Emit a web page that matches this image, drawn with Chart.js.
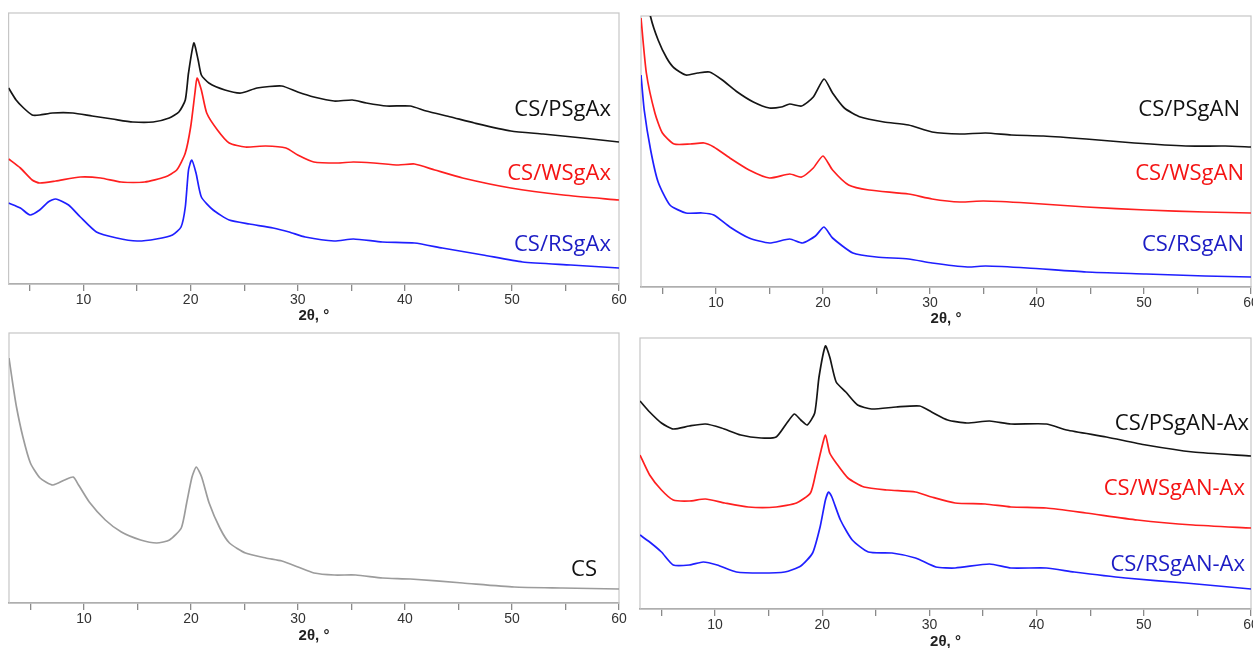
<!DOCTYPE html>
<html>
<head>
<meta charset="utf-8">
<script src="https://cdn.jsdelivr.net/npm/chart.js@4.4.1/dist/chart.umd.min.js"></script>
<style>
  html, body { margin: 0; padding: 0; background: #fff; overflow: hidden; }
  body { position: relative; width: 1253px; height: 648px; }
  canvas { position: absolute; }
  .tag { position: absolute; font-family: 'Open Sans', sans-serif; font-size: 22px; line-height: 22px; white-space: nowrap; }
</style>
</head>
<body>
<canvas id="p1" width="635" height="330" style="left:0;top:0"></canvas>
<canvas id="p2" width="633" height="330" style="left:630px;top:0"></canvas>
<canvas id="p3" width="635" height="328" style="left:0;top:320px"></canvas>
<canvas id="p4" width="633" height="340" style="left:630px;top:320px"></canvas>

<div class="tag" style="right:642px;top:96px;color:#111">CS/PSgAx</div>
<div class="tag" style="right:642px;top:160px;color:#f41414">CS/WSgAx</div>
<div class="tag" style="right:642px;top:231px;color:#1c1cc4">CS/RSgAx</div>
<div class="tag" style="right:13px;top:96px;color:#111">CS/PSgAN</div>
<div class="tag" style="right:9px;top:160px;color:#f41414">CS/WSgAN</div>
<div class="tag" style="right:9px;top:231px;color:#1c1cc4">CS/RSgAN</div>
<div class="tag" style="right:656px;top:556px;color:#111">CS</div>
<div class="tag" style="right:4px;top:410px;color:#111">CS/PSgAN-Ax</div>
<div class="tag" style="right:8px;top:475px;color:#f41414">CS/WSgAN-Ax</div>
<div class="tag" style="right:8px;top:551px;color:#1c1cc4">CS/RSgAN-Ax</div>

<script>
// 2θ positions and intensities (arbitrary units, offset per trace)
// top-left panel
const psgaxX = [3, 3.7, 4.4, 5.2, 5.9, 7.1, 9, 10.8, 12.7, 14.6, 16.5, 18, 18.9, 19.5, 19.8, 20.3, 20.7, 21, 21.7, 23.2, 24.7, 26.2, 28.5, 30, 31.5, 33.4, 35.1, 36.4, 38.3, 40.5, 42, 44.3, 46.5, 49.9, 52.9, 56.6, 60];
const psgaxY = [196, 184, 176, 169, 169, 171, 171, 168, 165, 162, 162, 166, 172, 184, 211, 241, 224, 209, 201, 194, 191, 196, 198, 192, 187, 183, 184, 181, 178, 178, 173, 167, 161, 153, 150, 146, 142];
const wsgaxX = [3, 4.1, 5.2, 5.9, 7.4, 9.7, 11.6, 13.5, 15.7, 17.6, 18.7, 19.5, 20, 20.4, 20.6, 21, 21.5, 22.5, 23.6, 25.1, 27, 28.9, 30, 31.5, 33.7, 35.2, 37.1, 39.4, 40.9, 42.8, 45.4, 49.9, 54.8, 60];
const wsgaxY = [125, 116, 104, 101, 103, 107, 106, 102, 102, 107, 114, 131, 157, 191, 206, 194, 171, 154, 141, 137, 138, 136, 129, 122, 121, 122, 121, 119, 120, 114, 106, 96, 89, 84];
const rsgaxX = [3, 4.1, 5, 5.9, 6.7, 7.4, 8.6, 9.7, 11.2, 13.1, 15, 16.8, 18.3, 19.1, 19.5, 19.8, 20.1, 20.5, 21, 22.1, 23.6, 25.5, 27.7, 29.2, 30.7, 33.4, 35.2, 37.9, 40.9, 43.5, 47.3, 51, 55.5, 60];
const rsgaxY = [81, 76, 69, 74, 82, 85, 79, 67, 52, 46, 43, 45, 49, 57, 77, 114, 124, 111, 87, 74, 64, 60, 56, 52, 47, 43, 45, 42, 41, 36, 29, 22, 19, 16];

// top-right panel
const psganX = [3.4, 3.9, 4.6, 5.4, 6.1, 7.2, 8.3, 9.4, 10.6, 12, 13.5, 15, 16.1, 16.9, 18, 19.1, 20.1, 20.9, 22, 23.5, 25.7, 28, 30.2, 32.8, 35.2, 37.6, 40.6, 44.6, 49.1, 53.9, 57.6, 60];
const psganY = [300, 270, 247, 229, 219, 212, 214, 215, 207, 195, 185, 179, 180, 183, 181, 190, 208, 194, 179, 170, 165, 162, 155, 153, 154, 152, 151, 148, 144, 141, 141, 140];
const wsganX = [3, 3.5, 4.3, 5, 6.1, 7.6, 8.9, 9.8, 11.3, 13.1, 15, 16.9, 18, 19.1, 20, 20.9, 22.4, 24.3, 28, 30.2, 32.8, 35, 39.1, 44.6, 50.2, 55.7, 60];
const wsganY = [269, 214, 174, 154, 143, 143, 144, 140, 129, 117, 109, 113, 110, 119, 131, 117, 102, 97, 93, 88, 85, 86, 84, 80, 77, 75, 74];
const rsganX = [3, 3.3, 3.9, 4.6, 5.7, 7.2, 8.7, 9.8, 11.3, 13.1, 15, 16.9, 18.1, 19.3, 20.1, 20.9, 22.8, 25, 28, 30.2, 33.5, 35.2, 39.1, 44.6, 50.2, 55.7, 60];
const rsganY = [212, 177, 137, 105, 82, 74, 74, 72, 60, 49, 44, 48, 44, 51, 60, 49, 34, 30, 28, 24, 20, 21, 19, 15, 13, 11, 10];

// bottom-left panel
const csX = [3, 3.3, 3.7, 4.3, 5, 5.9, 7.1, 8.2, 9, 9.5, 10.5, 12, 13.5, 15.3, 16.8, 18, 19.1, 19.6, 20.1, 20.5, 21, 21.7, 22.7, 23.6, 25.1, 27, 28.5, 30, 31.5, 33.4, 35.4, 37.9, 40.5, 45.4, 50.2, 54.7, 60];
const csY = [245, 223, 196, 166, 140, 125, 118, 123, 126, 118, 101, 83, 71, 63, 60, 63, 75, 100, 126, 136, 126, 100, 75, 60, 50, 45, 42, 36, 30, 28, 28, 25, 24, 20, 16, 15, 14];

// bottom-right panel
const psganAxX = [3, 3.9, 5, 6.1, 7.6, 9.1, 10.6, 12.4, 14.3, 15.7, 16.7, 17.4, 18, 18.6, 19.3, 19.7, 20.3, 20.7, 21.3, 22.2, 23.3, 24.6, 26.9, 29.1, 30.2, 31.7, 33.5, 35.6, 37.6, 40.9, 42.8, 46.5, 50.2, 54.6, 60];
const psganAxY = [208, 197, 186, 180, 183, 185, 181, 174, 171, 172, 186, 195, 189, 184, 196, 232, 263, 252, 227, 217, 204, 200, 202, 203, 197, 189, 186, 188, 185, 185, 179, 172, 164, 157, 153];
const wsganAxX = [3, 3.9, 5, 6.1, 7.6, 9.1, 10.9, 13.1, 15.7, 17.6, 18.9, 19.4, 19.9, 20.3, 20.7, 21.3, 22.4, 23.9, 26.1, 28.7, 30.2, 32.4, 35.2, 37.6, 40.9, 44.6, 49.4, 54.6, 60];
const wsganAxY = [154, 134, 119, 109, 108, 110, 106, 102, 102, 106, 116, 136, 159, 174, 156, 146, 131, 122, 119, 117, 112, 106, 105, 102, 101, 96, 89, 84, 81];
const rsganAxX = [3, 3.9, 5, 6.1, 7.6, 8.9, 10.2, 12, 14.3, 16.5, 18, 19.1, 19.8, 20.3, 20.6, 20.9, 21.7, 22.8, 24.3, 26.5, 28.7, 30.6, 32.4, 35.6, 37.6, 40.9, 43.5, 48.3, 53.9, 60];
const rsganAxY = [74, 67, 57, 44, 44, 47, 44, 37, 36, 37, 43, 56, 82, 109, 117, 112, 89, 69, 57, 56, 51, 42, 41, 45, 41, 41, 37, 31, 26, 20];

const xTicks = [5, 10, 15, 20, 25, 30, 35, 40, 45, 50, 55, 60];

const BLACK = '#151515', RED = '#ff1f1f', BLUE = '#1f1fff', GREY = '#9c9c9c';

const frame = {
	id: 'frame',
	beforeDatasetsDraw(chart) {
		const a = chart.chartArea;
		const ctx = chart.ctx;
		ctx.save();
		ctx.strokeStyle = '#c6c6c6';
		ctx.lineWidth = 1.2;
		ctx.strokeRect(a.left, a.top, a.right - a.left, a.bottom - a.top);
		ctx.restore();
	},
};

function pts(xs, ys) {
	return xs.map((x, i) => ({ x: x, y: ys[i] }));
}

function buildPanel(id, series, cfg) {
	return new Chart(document.getElementById(id), {
		type: 'line',
		data: {
			datasets: series.map((s) => ({
				data: pts(s[0], s[1]),
				borderColor: s[2],
				borderWidth: 1.7,
				pointRadius: 0,
				tension: 0.2,
				clip: 0,
			})),
		},
		options: {
			responsive: false,
			animation: false,
			events: [],
			layout: { padding: cfg.pad },
			plugins: { legend: { display: false }, tooltip: { enabled: false } },
			scales: {
				x: {
					type: 'linear',
					min: 3,
					max: 60,
					afterFit: (s) => { s.height = cfg.axisH; },
					afterBuildTicks: (s) => { s.ticks = xTicks.map((v) => ({ value: v })); },
					ticks: {
						autoSkip: false,
						maxRotation: 0,
						padding: 1,
						color: '#333',
						font: { family: 'Liberation Sans, Arial', size: 14 },
						callback: (v) => (v % 10 === 0 ? v : ''),
					},
					grid: { drawOnChartArea: false, tickLength: 7, color: '#8a8a8a', lineWidth: 1.3 },
					border: { color: '#8a8a8a', width: 1.6 },
					title: {
						display: true,
						text: '2θ, °',
						color: '#222',
						font: { family: 'Liberation Sans, Arial', size: 15, weight: 'bold' },
						padding: { top: 0, bottom: cfg.titlePad },
					},
				},
				y: { display: false, min: 0, max: cfg.yMax },
			},
		},
		plugins: [frame],
	});
}

buildPanel('p1', [[psgaxX, psgaxY, BLACK], [wsgaxX, wsgaxY, RED], [rsgaxX, rsgaxY, BLUE]],
	{ pad: { left: 8.6, top: 13, right: 16, bottom: 0 }, axisH: 46, titlePad: 5, yMax: 271 });
buildPanel('p2', [[psganX, psganY, BLACK], [wsganX, wsganY, RED], [rsganX, rsganY, BLUE]],
	{ pad: { left: 11, top: 16, right: 12, bottom: 0 }, axisH: 43, titlePad: 2, yMax: 271 });
buildPanel('p3', [[csX, csY, GREY]],
	{ pad: { left: 9, top: 13, right: 16, bottom: 0 }, axisH: 45, titlePad: 3, yMax: 270 });
buildPanel('p4', [[psganAxX, psganAxY, BLACK], [wsganAxX, wsganAxY, RED], [rsganAxX, rsganAxY, BLUE]],
	{ pad: { left: 10, top: 18, right: 12, bottom: 0 }, axisH: 51, titlePad: 9, yMax: 271 });
</script>
</body>
</html>
